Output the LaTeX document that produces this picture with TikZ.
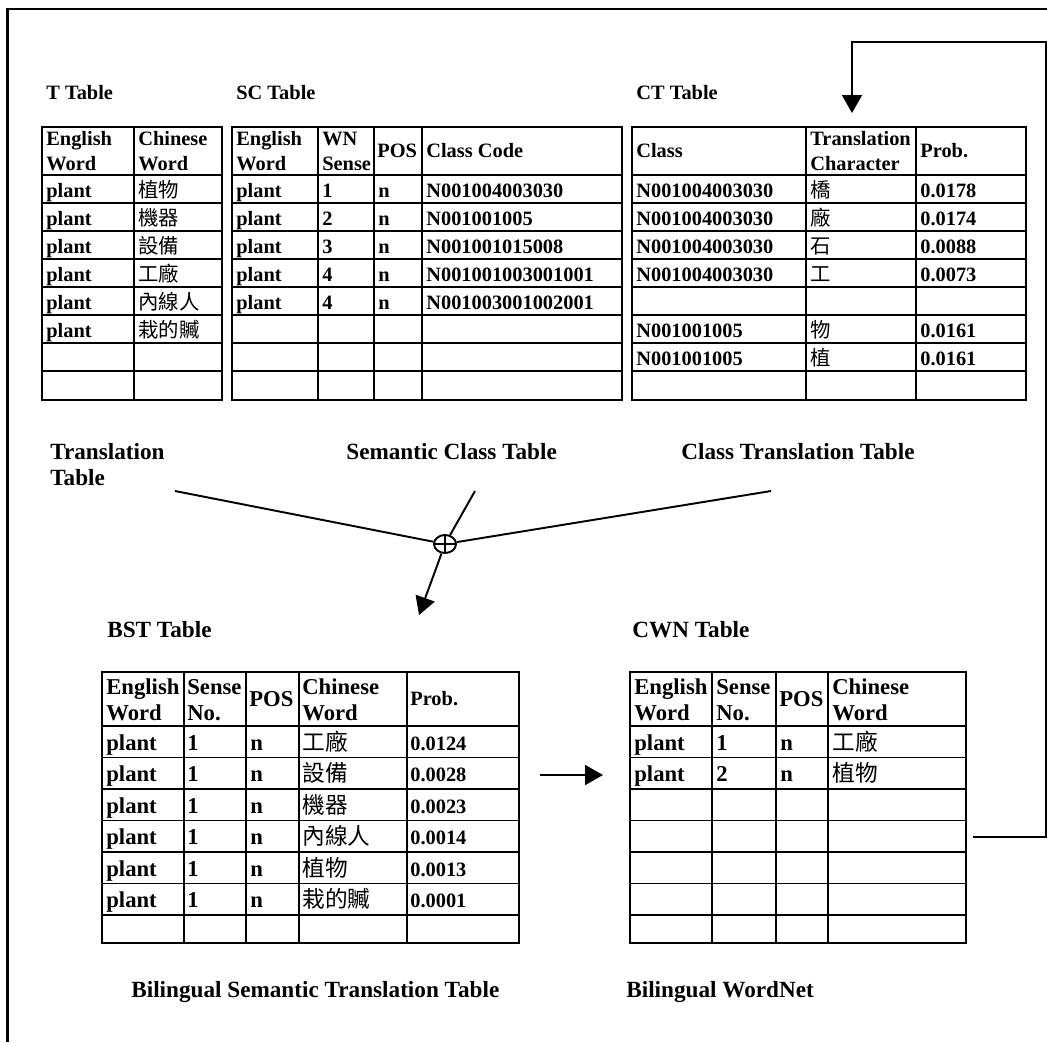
\documentclass[tikz,border=0pt]{standalone}
\usepackage{fontspec}
\setmainfont{Liberation Serif}
\newfontfamily\zhfont{Noto Sans CJK TC}
\usetikzlibrary{arrows.meta, positioning, calc, shapes.geometric}

\tikzset{
  gridline/.style={line width=1.1pt},
  cellA/.style={anchor=base west, inner sep=0pt, align=left,
    font=\fontsize{11.6}{13.7}\selectfont\bfseries},
  cellB/.style={anchor=base west, inner sep=0pt, align=left,
    font=\fontsize{12.9}{14.6}\selectfont\bfseries},
  tabtitle/.style={anchor=base west, inner sep=0pt,
    font=\fontsize{11.6}{13.7}\selectfont\bfseries},
  tabcaption/.style={anchor=base west, inner sep=0pt, align=left,
    font=\fontsize{13.2}{14.8}\selectfont\bfseries},
  flow/.style={line width=1.1pt, -{Triangle[length=3.6mm, width=4mm]}},
}
\newcommand{\zh}[1]{{\zhfont\mdseries #1}}
% left, right, top, bottom, inner columns, inner rows
\newcommand{\tabgrid}[6]{%
  \draw[gridline] (#1,#3) rectangle (#2,#4);
  \foreach \x in {#5} \draw[gridline] (\x,#3) -- (\x,#4);
  \foreach \y in {#6} \draw[gridline] (#1,\y) -- (#2,\y);
}

\begin{document}
\begin{tikzpicture}[x=0.02cm, y=-0.02cm]
  \useasboundingbox (0,0) rectangle (1047,1042);
  \draw[line width=1.2pt] (1047,9) -- (7.5,9) -- (7.5,1042);

  % top row: T, SC and CT tables
  \node[tabtitle] (ttitle) at (46,99) {T Table};
  \node[tabtitle] (sctitle) at (236,99) {SC Table};
  \node[tabtitle] (cttitle) at (636,99) {CT Table};

  \tabgrid{42}{222}{127}{400}{134}{175,203,...,371}
  \node[cellA] (t-h1) at (46,170) {English\\Word};
  \node[cellA] (t-h2) at (138,170) {Chinese\\Word};
  \foreach \w [count=\i] in {植物,機器,設備,工廠,內線人,栽的贓}{
    \node[cellA] (t-\i-1) at (46,{169+28*\i}) {plant};
    \node[cellA] (t-\i-2) at (138,{169+28*\i}) {\zh{\w}};
  }

  \tabgrid{232}{622}{127}{400}{318,374,422}{175,203,...,371}
  \node[cellA] (sc-h1) at (236,170) {English\\Word};
  \node[cellA] (sc-h2) at (322,170) {WN\\Sense};
  \node[cellA] (sc-h3) at (377,157) {POS};
  \node[cellA] (sc-h4) at (426,157) {Class Code};
  \foreach \s/\c [count=\i] in {1/N001004003030, 2/N001001005, 3/N001001015008,
      4/N001001003001001, 4/N001003001002001}{
    \node[cellA] (sc-\i-1) at (236,{169+28*\i}) {plant};
    \node[cellA] (sc-\i-2) at (322,{169+28*\i}) {\s};
    \node[cellA] (sc-\i-3) at (378,{169+28*\i}) {n};
    \node[cellA] (sc-\i-4) at (426,{169+28*\i}) {\c};
  }

  \tabgrid{632}{1026}{127}{400}{806,916}{175,203,...,371}
  \node[cellA] (ct-h1) at (636,157) {Class};
  \node[cellA] (ct-h2) at (810,170) {Translation\\Character};
  \node[cellA] (ct-h3) at (920,157) {Prob.};
  \foreach \i/\c/\z/\p in {1/N001004003030/橋/0.0178, 2/N001004003030/廠/0.0174,
      3/N001004003030/石/0.0088, 4/N001004003030/工/0.0073,
      6/N001001005/物/0.0161, 7/N001001005/植/0.0161}{
    \node[cellA] (ct-\i-1) at (636,{169+28*\i}) {\c};
    \node[cellA] (ct-\i-2) at (810,{169+28*\i}) {\zh{\z}};
    \node[cellA] (ct-\i-3) at (920,{169+28*\i}) {\p};
  }

  % merging the three tables
  \node[tabcaption] (tcap) at (50,485) {Translation\\Table};
  \node[tabcaption] (sccap) at (346,459) {Semantic Class Table};
  \node[tabcaption] (ctcap) at (681,459) {Class Translation Table};
  \node[draw, ellipse, line width=1.1pt, minimum width=4.4mm, minimum height=3.6mm,
    inner sep=0pt] (mix) at (445,544) {};
  \draw[line width=1.1pt] (mix.north) -- (mix.south) (mix.west) -- (mix.east);
  \coordinate (tin) at (175,491);
  \coordinate (scin) at (475,491);
  \coordinate (ctin) at (771,491);
  \coordinate (bstin) at (419,615);
  \draw[line width=1.1pt] (tin) -- (mix);
  \draw[line width=1.1pt] (scin) -- (mix);
  \draw[line width=1.1pt] (ctin) -- (mix);
  \draw[flow] (mix) -- (bstin);

  % bottom row: BST and CWN tables
  \node[tabcaption] (bsttitle) at (107,637) {BST Table};
  \node[tabcaption] (cwntitle) at (632,637) {CWN Table};

  \tabgrid{102}{519}{672}{943}{184,246,299,407}{726,757.5,789,820.5,852,883.5,915}
  \node[cellB] (bst-h1) at (106,720) {English\\Word};
  \node[cellB] (bst-h2) at (187,720) {Sense\\No.};
  \node[cellB] (bst-h3) at (249,706) {POS};
  \node[cellB] (bst-h4) at (302,720) {Chinese\\Word};
  \node[cellA] (bst-h5) at (410,705) {Prob.};
  \foreach \w/\p [count=\i] in {工廠/0.0124, 設備/0.0028, 機器/0.0023,
      內線人/0.0014, 植物/0.0013, 栽的贓/0.0001}{
    \node[cellB] (bst-\i-1) at (106,{718.5+31.5*\i}) {plant};
    \node[cellB] (bst-\i-2) at (187,{718.5+31.5*\i}) {1};
    \node[cellB] (bst-\i-3) at (250,{718.5+31.5*\i}) {n};
    \node[cellB] (bst-\i-4) at (302,{718.5+31.5*\i}) {\zh{\w}};
    \node[cellA] (bst-\i-5) at (410,{718.5+31.5*\i}) {\p};
  }

  \tabgrid{630}{966}{672}{943}{712,776,828}{726,757.5,789,820.5,852,883.5,915}
  \node[cellB] (cwn-h1) at (634,720) {English\\Word};
  \node[cellB] (cwn-h2) at (716,720) {Sense\\No.};
  \node[cellB] (cwn-h3) at (779,706) {POS};
  \node[cellB] (cwn-h4) at (832,720) {Chinese\\Word};
  \foreach \s/\w [count=\i] in {1/工廠, 2/植物}{
    \node[cellB] (cwn-\i-1) at (634,{718.5+31.5*\i}) {plant};
    \node[cellB] (cwn-\i-2) at (716,{718.5+31.5*\i}) {\s};
    \node[cellB] (cwn-\i-3) at (780,{718.5+31.5*\i}) {n};
    \node[cellB] (cwn-\i-4) at (832,{718.5+31.5*\i}) {\zh{\w}};
  }

  \coordinate (bstout) at (540,775);
  \coordinate (cwnin) at (603,775);
  \draw[flow] (bstout) -- (cwnin);

  % feedback into the CT table
  \coordinate (cwnout) at (973,837);
  \coordinate (ctback) at (852,113);
  \draw[flow] (cwnout) -| (1046,42) -| (ctback);

  \node[tabcaption] (bstcap) at (131,997) {Bilingual Semantic Translation Table};
  \node[tabcaption] (cwncap) at (626,997) {Bilingual WordNet};
\end{tikzpicture}
\end{document}
